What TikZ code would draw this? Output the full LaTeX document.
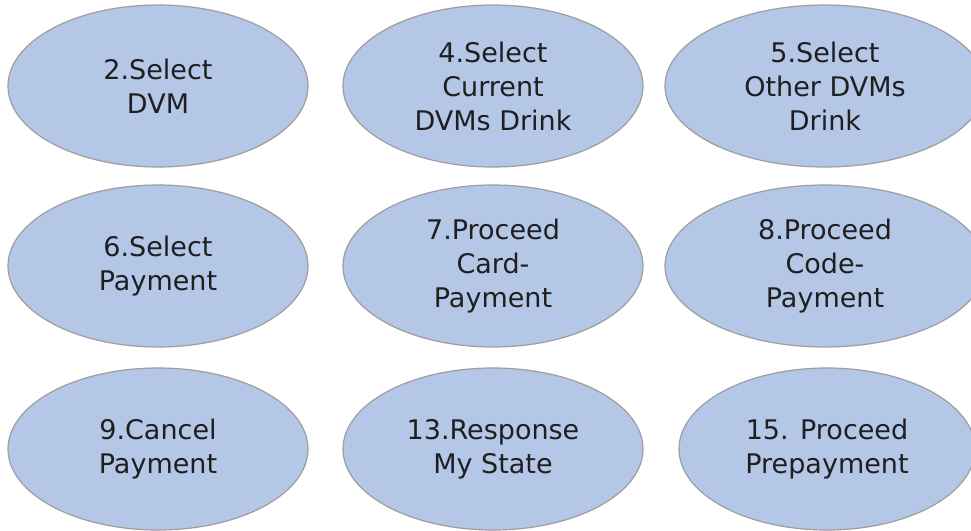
\documentclass[tikz,border=0pt]{standalone}
\usepackage{fontspec}
\setmainfont{DejaVu Sans}
\usetikzlibrary{shapes}
\definecolor{ucblue}{HTML}{B4C7E7}

\begin{document}
\begin{tikzpicture}[x=0.5pt,y=-0.5pt,
  uc/.style={ellipse,draw=black!38,fill=ucblue,line width=0.6pt,
    minimum width=150pt,minimum height=81pt,inner sep=0pt,align=center,
    font=\fontsize{13.5}{17}\selectfont,text=black!88}]
\useasboundingbox (0,0) rectangle (971,531);
\fill[white] (0,0) rectangle (971,531);

\node[uc] (s2) at (158,86) {2.Select\\DVM};
\node[uc] (s4) at (493,86) {4.Select\\Current\\DVMs Drink};
\node[uc,minimum width=160pt] (s5) at (825,86) {5.Select\\Other DVMs\\Drink};

\node[uc] (s6) at (158,266) {6.Select\\Payment};
\node[uc] (s7) at (493,266) {7.Proceed\\Card-\\Payment};
\node[uc,minimum width=160pt] (s8) at (825,266) {8.Proceed\\Code-\\Payment};

\node[uc] (s9) at (158,449) {9.Cancel\\Payment};
\node[uc] (s13) at (493,449) {13.Response\\My State};
\node[uc,minimum width=148pt] (s15) at (827,449) {15. Proceed\\Prepayment};

\end{tikzpicture}
\end{document}
